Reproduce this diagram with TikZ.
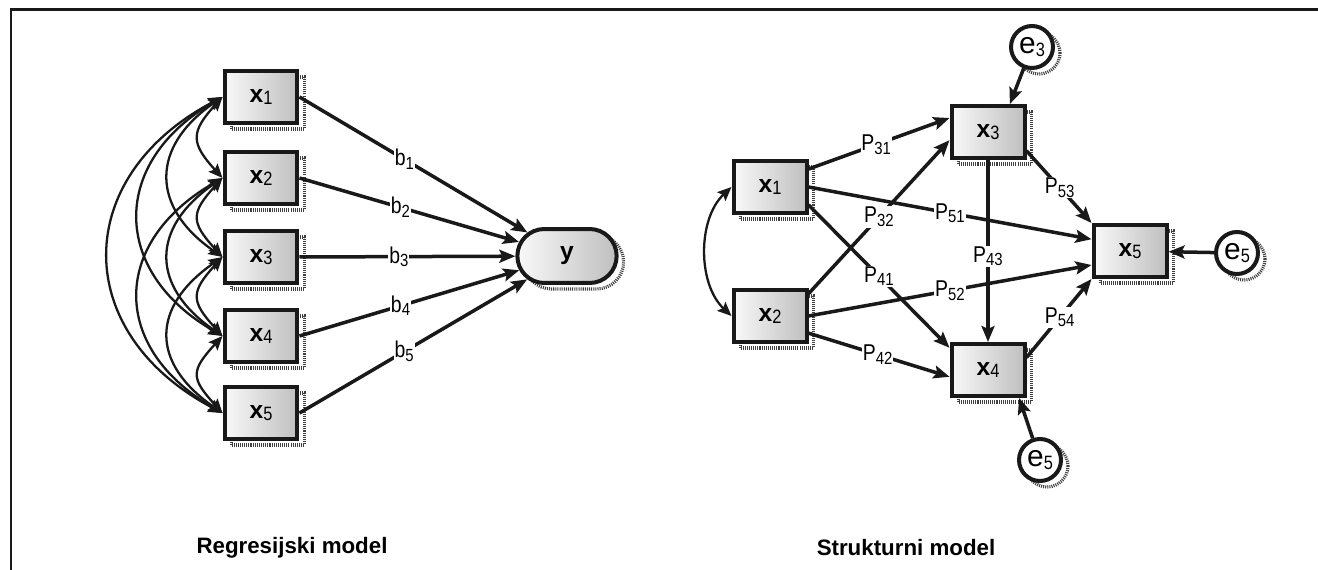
\documentclass[tikz,border=0pt]{standalone}
\usepackage{fontspec}
\setmainfont{Liberation Sans}
\newfontfamily\narrowsf{Liberation Sans}[FakeStretch=0.85]
\usetikzlibrary{arrows.meta,shapes.misc,shadows,backgrounds}

\newcommand{\xv}[1]{{\fontsize{14}{14}\selectfont\bfseries x}\raisebox{-1.5pt}{\narrowsf\fontsize{11}{11}\selectfont #1}}
\newcommand{\ev}[1]{{\fontsize{17}{17}\selectfont e}\raisebox{-1.5pt}{\narrowsf\fontsize{11}{11}\selectfont #1}}
\newcommand{\cf}[2]{{\narrowsf\fontsize{13}{13}\selectfont #1\raisebox{-2pt}{\fontsize{10}{10}\selectfont #2}}}

\tikzset{
	dots/.style={general shadow={shadow xshift=0.14cm, shadow yshift=-0.12cm, draw=black!75, fill=none, line width=1.8pt, dash pattern=on 0.6pt off 0.6pt}},
	var/.style={draw=black!90, line width=0.08cm, minimum width=1.46cm, minimum height=1.04cm, left color=gray!5, right color=gray!50, dots},
	err/.style={circle, draw=black!90, line width=0.08cm, minimum size=0.84cm, inner sep=0pt, fill=white, dots},
	eff/.style={draw=black!90, line width=0.07cm, -{Stealth[length=0.32cm, width=0.26cm, inset=0.06cm]}},
	cov/.style={draw=black!90, line width=1.3pt, {Stealth[length=0.28cm, width=0.24cm, inset=0.05cm]}-{Stealth[length=0.28cm, width=0.24cm, inset=0.05cm]}},
	lbl/.style={fill=white, inner sep=0.5pt},
	caption/.style={font=\bfseries\fontsize{12.7}{12.7}\selectfont},
}

\begin{document}
\begin{tikzpicture}[x=0.02cm, y=-0.02cm]
	\useasboundingbox (0,0) rectangle (1318,570);
	\draw[black!90, line width=0.06cm] (11,570) -- (11,10) -- (1318,10);

	% regression model
	\foreach \i/\yy in {1/97, 2/178, 3/257, 4/336, 5/413}
		\node[var] (r\i) at (261,\yy) {\xv{\i}};
	\node[var, rounded rectangle, minimum width=2.22cm, minimum height=1.08cm] (y) at (567,256) {\fontsize{14}{14}\selectfont\bfseries y};
	\begin{scope}[on background layer]
		\fill[gray!22] (y.north west) rectangle (y.south east);
	\end{scope}

	\foreach \i in {1,...,5}
		\draw[eff] (r\i.east) -- node[lbl, pos=0.46] {\cf{b}{\i}} (y);

	\foreach \i in {1,...,4} {
		\pgfmathtruncatemacro\nxt{\i+1}
		\foreach \j in {\nxt,...,5} {
			\pgfmathsetmacro\hh{40*(\j-\i)-8}
			\pgfmathsetmacro\vv{20+15*(\j-\i)}
			\draw[cov] (r\i.west) .. controls +(-\hh,\vv) and +(-\hh,-\vv) .. (r\j.west);
		}
	}

	% structural model
	\node[var] (s1) at (770,187) {\xv{1}};
	\node[var] (s2) at (770,316) {\xv{2}};
	\node[var] (s3) at (988,132) {\xv{3}};
	\node[var] (s4) at (988,370) {\xv{4}};
	\node[var] (s5) at (1130,251) {\xv{5}};
	\node[err] (e3) at (1032,47) {\ev{3}};
	\node[err] (e5) at (1237,253) {\ev{5}};
	\node[err] (e4) at (1040,460) {\ev{5}};

	\draw[cov] (s1.west) .. controls +(-34,32) and +(-34,-32) .. (s2.west);

	\draw[eff] (s1.25) -- node[lbl, pos=0.48] {\cf{P}{31}} (s3.160);
	\draw[eff] (s2.30) -- node[lbl, pos=0.5] {\cf{P}{32}} (s3.192);
	\draw[eff] (s1.east) -- node[lbl, pos=0.5] {\cf{P}{51}} (s5.163);
	\draw[eff] (s1.335) -- node[lbl, pos=0.5] {\cf{P}{41}} (s4.150);
	\draw[eff] (s2.east) -- node[lbl, pos=0.5] {\cf{P}{52}} (s5.200);
	\draw[eff] (s2.336) -- node[lbl, pos=0.49] {\cf{P}{42}} (s4.190);
	\draw[eff] (s3) -- node[lbl, pos=0.53] {\cf{P}{43}} (s4);
	\draw[eff] (s3.334) -- node[lbl, pos=0.51] {\cf{P}{53}} (s5.north west);
	\draw[eff] (s4.18) -- node[lbl, pos=0.51] {\cf{P}{54}} (s5.south west);

	\draw[eff] (e3) -- (s3.52);
	\draw[eff] (e5) -- (s5);
	\draw[eff] (e4) -- (s4.318);

	\node[caption] (cap1) at (292,548) {Regresijski model};
	\node[caption] (cap2) at (906,548) {Strukturni model};
\end{tikzpicture}
\end{document}
